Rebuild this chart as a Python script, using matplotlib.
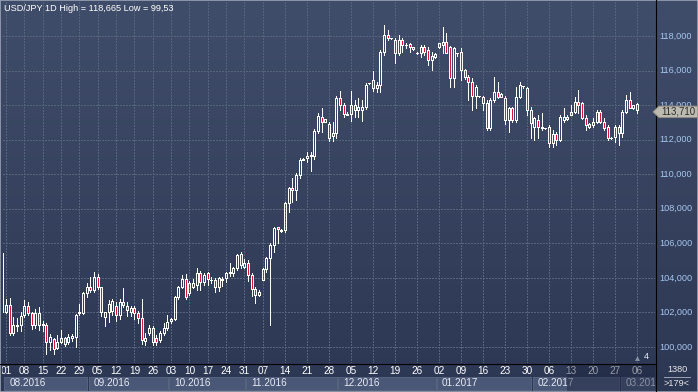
import numpy as np
import matplotlib
matplotlib.use("Agg")
import matplotlib.pyplot as plt
from matplotlib.patches import Rectangle, Polygon
from matplotlib.lines import Line2D
from matplotlib.colors import LinearSegmentedColormap

plt.rcParams['font.family'] = ['Liberation Sans', 'DejaVu Sans']

# ---------------- data ----------------
first_bar = -1   # index of the first bar (29.07.2016, mostly hidden at the left edge)
opens = [105.45, 102.05, 102.45, 100.80, 101.20, 101.25, 101.85, 102.40, 101.95, 101.25, 101.95,
         101.25, 101.30, 100.30, 100.45, 99.95, 100.30, 100.50, 100.30, 100.50, 100.55,
         101.95, 101.95, 103.10, 103.45, 103.30, 104.05, 103.45, 101.75, 102.05, 102.10,
         102.40, 101.85, 102.60, 102.40, 102.05, 102.25, 101.95, 101.70, 100.35, 100.80,
         101.10, 100.50, 100.40, 100.80, 101.10, 101.50, 101.60, 102.90, 103.50, 103.95,
         103.10, 103.50, 103.60, 104.26, 103.78, 104.26, 103.88, 103.88, 103.49, 103.85,
         103.97, 104.28, 104.26, 104.55, 105.38, 104.65, 104.84, 104.17, 103.34, 103.00,
         103.90, 104.50, 105.13, 105.90, 106.92, 106.77, 106.77, 108.35, 109.18, 109.09,
         109.95, 110.82, 110.92, 111.05, 111.05, 112.52, 113.33, 113.04, 112.90, 112.20,
         112.40, 114.40, 114.00, 113.50, 113.50, 114.00, 113.70, 113.70, 113.90, 115.25,
         115.45, 114.97, 115.16, 117.09, 118.05, 117.86, 117.77, 116.99, 117.77, 117.45,
         117.53, 117.34, 117.03, 116.99, 117.38, 117.20, 116.61, 116.80, 117.38, 117.48,
         117.67, 117.38, 115.55, 116.99, 117.09, 116.03, 115.64, 115.35, 114.53, 114.53,
         114.45, 114.10, 112.65, 114.29, 114.78, 114.49, 114.39, 113.14, 113.81, 113.14,
         114.49, 115.10, 114.97, 113.72, 112.75, 113.14, 112.75, 112.65, 112.75, 111.79,
         112.33, 111.98, 113.14, 113.33, 113.43, 113.62, 114.20, 114.10, 113.23, 112.90,
         112.85, 113.04, 113.62, 113.04, 112.75, 112.10, 112.17, 112.75, 112.36, 113.62,
         114.29, 113.81, 114.04]
highs = [105.65, 102.75, 102.85, 101.75, 101.70, 102.05, 102.70, 102.60, 102.05, 102.20, 102.30,
         101.50, 101.40, 100.75, 100.50, 100.70, 101.00, 100.55, 100.75, 100.75, 101.90,
         102.50, 103.20, 103.70, 104.05, 104.35, 104.20, 103.50, 102.05, 102.70, 102.80,
         102.60, 102.80, 103.40, 102.60, 102.35, 102.35, 102.10, 102.80, 100.80, 101.30,
         101.20, 100.70, 100.90, 101.40, 101.85, 101.70, 102.95, 103.55, 104.15, 104.20,
         103.80, 103.95, 104.55, 104.40, 104.30, 104.35, 104.05, 103.97, 104.07, 104.05,
         104.35, 104.88, 104.65, 105.40, 105.50, 105.10, 105.05, 104.30, 103.50, 103.30,
         104.60, 105.20, 106.00, 106.96, 106.96, 106.85, 108.41, 109.28, 109.76, 110.05,
         110.92, 110.96, 111.30, 111.30, 112.60, 113.52, 113.81, 113.20, 113.00, 113.00,
         114.50, 114.80, 114.10, 113.60, 114.80, 114.30, 114.40, 114.30, 115.30, 115.30,
         116.00, 115.35, 117.20, 118.63, 118.35, 117.90, 117.86, 118.05, 117.86, 117.60,
         117.57, 117.36, 117.10, 117.48, 117.50, 117.38, 117.09, 117.00, 117.61, 118.54,
         118.15, 117.40, 117.38, 116.99, 117.28, 116.10, 115.74, 115.55, 115.16, 114.55,
         114.50, 114.30, 114.39, 115.64, 115.35, 114.70, 114.50, 113.91, 113.91, 115.07,
         115.35, 115.10, 115.07, 113.91, 113.33, 113.43, 113.52, 112.70, 112.85, 112.56,
         112.46, 113.43, 113.81, 113.40, 114.00, 114.49, 114.90, 114.20, 113.43, 112.95,
         113.23, 113.72, 113.72, 113.23, 112.85, 112.15, 112.85, 112.85, 113.72, 114.58,
         114.78, 114.00, 114.10]
lows = [101.95, 101.95, 100.70, 100.70, 100.90, 100.90, 101.75, 101.85, 101.05, 101.10, 101.00,
        100.90, 99.60, 99.85, 99.60, 99.90, 100.25, 100.05, 100.20, 100.35, 100.00,
        101.85, 101.90, 102.90, 103.20, 103.20, 103.35, 101.80, 101.20, 101.45, 101.85,
        101.50, 101.60, 102.30, 101.80, 101.80, 101.60, 101.40, 100.20, 100.10, 100.70,
        100.10, 100.10, 100.30, 100.70, 101.00, 101.40, 101.55, 102.80, 103.40, 102.80,
        103.00, 103.40, 103.30, 103.30, 103.60, 103.60, 103.70, 103.20, 103.25, 103.55,
        103.75, 104.10, 104.10, 104.45, 104.55, 104.55, 103.80, 102.97, 102.55, 102.95,
        103.85, 104.35, 101.27, 105.52, 106.00, 106.65, 106.67, 107.83, 108.41, 108.51,
        109.76, 110.80, 110.73, 110.20, 110.86, 112.37, 112.46, 113.00, 111.95, 111.90,
        112.10, 113.70, 113.30, 113.40, 113.05, 113.30, 113.30, 113.10, 113.80, 115.20,
        114.80, 114.77, 114.77, 116.90, 117.77, 117.80, 116.42, 116.90, 117.09, 117.30,
        117.09, 117.20, 116.95, 116.80, 116.90, 116.32, 116.03, 116.75, 117.28, 116.99,
        116.99, 115.07, 115.07, 116.85, 115.45, 115.50, 114.30, 113.72, 113.81, 114.45,
        113.72, 112.55, 112.56, 114.20, 114.39, 114.45, 112.90, 112.46, 113.04, 113.04,
        114.39, 115.00, 113.43, 112.08, 111.98, 112.08, 112.56, 112.60, 111.59, 111.59,
        111.69, 111.90, 113.00, 113.15, 113.40, 113.52, 113.52, 113.20, 112.56, 112.70,
        112.75, 112.94, 112.94, 112.56, 111.98, 112.05, 111.88, 111.69, 112.17, 113.52,
        113.81, 113.80, 113.52]
closes = [102.05, 102.45, 100.80, 101.25, 101.25, 101.80, 102.40, 101.95, 101.25, 101.95, 101.30,
          101.35, 100.30, 100.60, 99.90, 100.30, 100.50, 100.20, 100.60, 100.65, 101.85,
          102.05, 103.10, 103.50, 103.30, 104.05, 103.45, 102.00, 102.00, 102.50, 102.65,
          101.85, 102.60, 102.45, 102.15, 102.25, 101.95, 101.65, 100.40, 100.50, 101.10,
          100.30, 100.30, 100.80, 101.10, 101.45, 101.60, 102.90, 103.50, 103.95, 102.90,
          103.70, 103.72, 104.26, 103.78, 104.17, 103.92, 103.85, 103.49, 103.97, 103.95,
          104.26, 104.32, 104.55, 105.32, 104.75, 104.84, 104.17, 103.34, 103.00, 103.20,
          104.50, 105.13, 105.90, 106.90, 106.81, 106.72, 108.35, 109.18, 109.09, 109.95,
          110.82, 110.88, 111.05, 111.10, 112.52, 113.37, 113.00, 113.17, 112.10, 112.40,
          114.40, 114.00, 113.50, 113.45, 114.00, 113.70, 113.90, 113.90, 115.15, 115.30,
          114.97, 115.16, 117.09, 118.05, 117.86, 117.86, 116.99, 117.77, 117.48, 117.50,
          117.34, 117.25, 117.00, 117.38, 117.09, 116.61, 116.84, 116.95, 117.61, 117.67,
          116.99, 115.55, 117.28, 116.99, 116.03, 115.64, 115.35, 114.53, 115.07, 114.50,
          114.10, 112.65, 114.29, 114.78, 114.49, 114.64, 113.14, 113.81, 113.14, 114.49,
          115.16, 115.10, 113.72, 112.94, 113.23, 112.75, 112.70, 112.68, 111.79, 112.33,
          111.98, 113.33, 113.33, 113.18, 113.62, 114.20, 114.00, 113.23, 112.85, 112.75,
          113.04, 113.62, 113.04, 112.65, 112.08, 112.08, 112.75, 112.36, 113.62, 114.29,
          113.81, 114.00, 113.71]

day_ticks = [0, 5, 10, 15, 20, 25, 30, 35, 40, 45, 50, 55, 60, 65, 70, 76, 82, 88, 94,
             100, 106, 112, 118, 124, 130, 136, 142, 148, 154, 160, 166, 172]
day_labels = ['01', '08', '15', '22', '29', '05', '12', '19', '26', '03', '10', '17', '24',
              '31', '07', '14', '21', '28', '05', '12', '19', '26', '02', '09', '16', '23',
              '30', '06', '13', '20', '27', '06']
month_starts = [0, 23, 45, 66, 91, 118, 144, 168]
month_labels = ['08.2016', '09.2016', '10.2016', '11.2016', '12.2016', '01.2017', '02.2017', '03.2017']
price_ticks = [100, 102, 104, 106, 108, 110, 112, 114, 116, 118]
last_price = 113.71
title_text = 'USD/JPY 1D High = 118,665 Low = 99,53'
corner_top, corner_bottom = '1380', '>179<'
marker_count = '4'

# ---------------- layout constants (pixels) ----------------
W, H, DPI = 698, 392, 100
BAR_PX, X0_PX = 3.669, 6.0          # bar spacing, x of bar 0
PX_PER_UNIT, Y100_PX = 17.28, 347.0  # vertical scale
PLOT_L, PLOT_R, PLOT_T, PLOT_B = 2, 655, 2, 363
LEFT_DATA_PX = 3.0                  # pixel position that maps to the axes' left data limit

BG_TOP, BG_BOT = '#404d6a', '#2c3753'
GRID_C = '#56637d'
RED = '#dc143c'
LABEL_BLUE = '#a6c6ee'
FS = 6.6

def fx(x):
    return x / W

def fy(y):
    return 1 - y / H

fig = plt.figure(figsize=(W / DPI, H / DPI), dpi=DPI)

# background gradient
bg = fig.add_axes([0, 0, 1, 1])
bg.set_axis_off()
grad = np.linspace(0, 1, 256).reshape(-1, 1)
bg.imshow(grad, aspect='auto', cmap=LinearSegmentedColormap.from_list('bg', [BG_TOP, BG_BOT]),
          extent=[0, 1, 0, 1], origin='upper')
bg.set_xlim(0, 1); bg.set_ylim(0, 1)

# main axes (left edge slightly inside so only the right edge of the first bar shows)
ax = fig.add_axes([fx(LEFT_DATA_PX), fy(PLOT_B), (PLOT_R - LEFT_DATA_PX) / W, (PLOT_B - PLOT_T) / H])
ax.patch.set_alpha(0)
xmin = (LEFT_DATA_PX - X0_PX) / BAR_PX
xmax = (PLOT_R - X0_PX) / BAR_PX
ymin = 100 - (PLOT_B - Y100_PX) / PX_PER_UNIT
ymax = 100 + (Y100_PX - PLOT_T) / PX_PER_UNIT
ax.set_xlim(xmin, xmax)
ax.set_ylim(ymin, ymax)
ax.set_axis_off()

# grid
for p in price_ticks:
    ax.axhline(p, color=GRID_C, lw=0.72, ls=(0, (2, 2)), antialiased=False, zorder=1)
for t in day_ticks:
    ax.axvline(t, color=GRID_C, lw=0.72, ls=(0, (2, 2)), antialiased=False, zorder=1)

# candles
bw = 2.0 / BAR_PX
xs = np.arange(len(opens)) + first_bar
for x, o, h, l, c in zip(xs, opens, highs, lows, closes):
    top, bot = max(o, c), min(o, c)
    ax.vlines(x, top, h, color='white', lw=0.72, antialiased=False, zorder=3)
    ax.vlines(x, l, bot, color='white', lw=0.72, antialiased=False, zorder=3)
    ax.add_patch(Rectangle((x - bw / 2, bot), bw, top - bot,
                           facecolor=(RED if c < o else 'none'), edgecolor='white',
                           lw=0.72, antialiased=False, zorder=4))

# count marker at lower right
ax.text(xmin + (644 - LEFT_DATA_PX) / BAR_PX, ymin + (363 - 357) / PX_PER_UNIT, marker_count,
        color='#e8ecf4', fontsize=FS, ha='left', va='center', zorder=6)
ax.plot([xmin + (637 - LEFT_DATA_PX) / BAR_PX], [ymin + (363 - 357.5) / PX_PER_UNIT], marker='^',
        ms=3.5, color='#8892a6', mec='none', zorder=6)

# title
fig.text(fx(4), fy(8.5), title_text, color='white', fontsize=FS, ha='left', va='center')

# current price tag geometry (pixels)
yp = Y100_PX - (last_price - 100) * PX_PER_UNIT
tag_top, tag_bot = yp - 4.0, yp + 7.5
tag_mid = 0.5 * (tag_top + tag_bot)

# right price labels; the one hidden by the tag is clipped to the part above it
clip_above_tag = Rectangle((fx(656), fy(tag_top)), fx(698) - fx(656), 1 - fy(tag_top),
                           transform=fig.transFigure)
for p in price_ticks:
    y = Y100_PX - (p - 100) * PX_PER_UNIT
    t = fig.text(fx(659), fy(y), f'{p},000', color=LABEL_BLUE, fontsize=FS, ha='left',
                 va='center', zorder=3)
    if abs(y - tag_mid) < 12:
        t.set_clip_path(clip_above_tag)

# current price tag (drawn over the 114,000 label, as in the original)
tag = Polygon([(fx(653), fy(tag_mid)), (fx(659), fy(tag_top)), (fx(698), fy(tag_top)),
               (fx(698), fy(tag_bot)), (fx(659), fy(tag_bot))], closed=True,
              transform=fig.transFigure, facecolor='#bdbbb0', edgecolor='#8d8b82', lw=0.7,
              zorder=4)
fig.add_artist(tag)
fig.text(fx(661), fy(tag_mid), f'{last_price:.3f}'.replace('.', ','), color='#2a2a2a',
         fontsize=FS + 0.3, ha='left', va='center', zorder=5)

# date strip
dax = fig.add_axes([fx(PLOT_L), fy(391), (PLOT_R - PLOT_L) / W, 27 / H])
dxmin = (PLOT_L - X0_PX) / BAR_PX
dax.set_xlim(dxmin, xmax)
dax.set_ylim(0, 27)
dax.set_axis_off()
dax.patch.set_alpha(0)
bounds = month_starts + [len(opens) + first_bar + 6]
for k, lbl in enumerate(month_labels):
    x0 = bounds[k] - 0.5
    x1 = bounds[k + 1] - 0.5 - 1.5 / BAR_PX
    dax.add_patch(Rectangle((x0, 1), x1 - x0, 13, facecolor='#4a5776', edgecolor='#56637f',
                            lw=0.6, antialiased=False, zorder=1))
    dax.text(x0 + 5 / BAR_PX, 7.5, lbl, color='#e6eaf2', fontsize=FS + 0.6, ha='left',
             va='center', clip_on=True, zorder=3)
for t, lbl in zip(day_ticks, day_labels):
    dax.text(t, 20.5, lbl, color='white', fontsize=FS + 0.6, ha='center', va='center',
             clip_on=True, zorder=3)
# dimmed scroll region on the right of the strip
xd = (567 - X0_PX) / BAR_PX
dax.add_patch(Rectangle((xd, 0), xmax - xd, 27, facecolor='#1c2540', alpha=0.45,
                        edgecolor='none', zorder=5))

# frame lines
fig.add_artist(Line2D([fx(655.5), fx(655.5)], [fy(0), fy(392)], color='black', lw=0.8,
                      transform=fig.transFigure))
fig.add_artist(Line2D([fx(0), fx(655.5)], [fy(363.5), fy(363.5)], color='black', lw=0.8,
                      transform=fig.transFigure))
fig.add_artist(Rectangle((0, 0), 1, 1, transform=fig.transFigure, facecolor='none',
                         edgecolor='#9aa2b4', lw=1.2))

# corner box
fig.text(fx(677), fy(370), corner_top, color='#e6e6e6', fontsize=FS, ha='center', va='center')
fig.add_artist(Line2D([fx(664), fx(690)], [fy(376.5), fy(376.5)], color='#9aa2b4', lw=0.7,
                      transform=fig.transFigure))
fig.text(fx(677), fy(383.5), corner_bottom, color='#e6e6e6', fontsize=FS, ha='center',
         va='center')

fig.savefig('out.png', dpi=DPI)
